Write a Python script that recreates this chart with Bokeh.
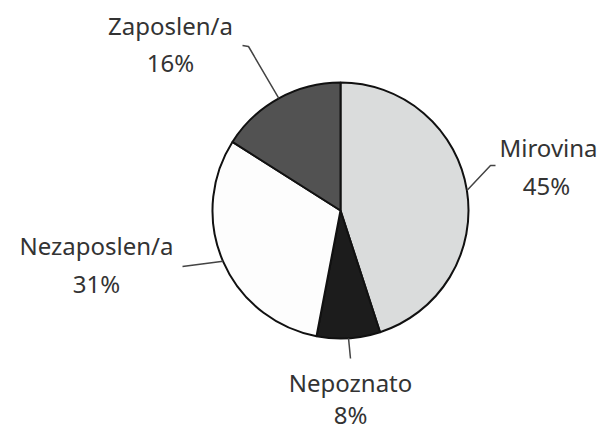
import math
from bokeh.plotting import figure
from bokeh.models import Range1d, ColumnDataSource
from bokeh.core.properties import value
from bokeh.embed import file_html
from bokeh.resources import INLINE

# data
categories = ["Mirovina", "Nepoznato", "Nezaposlen/a", "Zaposlen/a"]
shares = [45, 8, 31, 16]

# styles / layout
colors = ["#dadcdc", "#1c1c1c", "#fdfdfd", "#525252"]
W, H = 602, 432
CX, CY, R = 340, 222, 128
# label anchors (data coords: y measured upward from bottom)
label_pos = [(548, 285), (350, 50), (96, 187), (170, 407)]
pct_pos = [(546, 247), (350, 18), (96, 149), (170, 370)]
# leader elbows
elbows = [[(490, 267), (495, 267)], [(350, 74)], [(213, 170), (182, 166)], [(248, 386), (242, 387)]]

total = sum(shares)
starts, ends, mids = [], [], []
cum = 0.0
for s in shares:
    a0 = math.pi / 2 - 2 * math.pi * cum / total
    cum += s
    a1 = math.pi / 2 - 2 * math.pi * cum / total
    starts.append(a0)
    ends.append(a1)
    mids.append((a0 + a1) / 2)

p = figure(width=W, height=H, output_backend="svg", toolbar_location=None,
           x_range=Range1d(0, W), y_range=Range1d(0, H),
           min_border=0, outline_line_color=None)
p.axis.visible = False
p.grid.visible = False
p.background_fill_color = "white"
p.border_fill_color = "white"

src = ColumnDataSource(dict(start=starts, end=ends, color=colors, cat=categories))
p.wedge(x=CX, y=CY, radius=R, start_angle="start", end_angle="end", direction="clock",
        fill_color="color", line_color="#111111", line_width=2, source=src)

for i, m in enumerate(mids):
    xs = [CX + R * math.cos(m)] + [e[0] for e in elbows[i]]
    ys = [CY + R * math.sin(m)] + [e[1] for e in elbows[i]]
    p.line(xs, ys, line_color="#444444", line_width=1.5)

font = value("Noto Sans")
p.text(x=[q[0] for q in label_pos], y=[q[1] for q in label_pos], text=categories,
       text_align="center", text_baseline="alphabetic", text_font=font,
       text_font_size="24px", text_color="#333333")
p.text(x=[q[0] for q in pct_pos], y=[q[1] for q in pct_pos], text=[f"{s}%" for s in shares],
       text_align="center", text_baseline="alphabetic", text_font=font,
       text_font_size="24px", text_color="#333333")

open("out.html", "w").write(file_html(p, INLINE))
